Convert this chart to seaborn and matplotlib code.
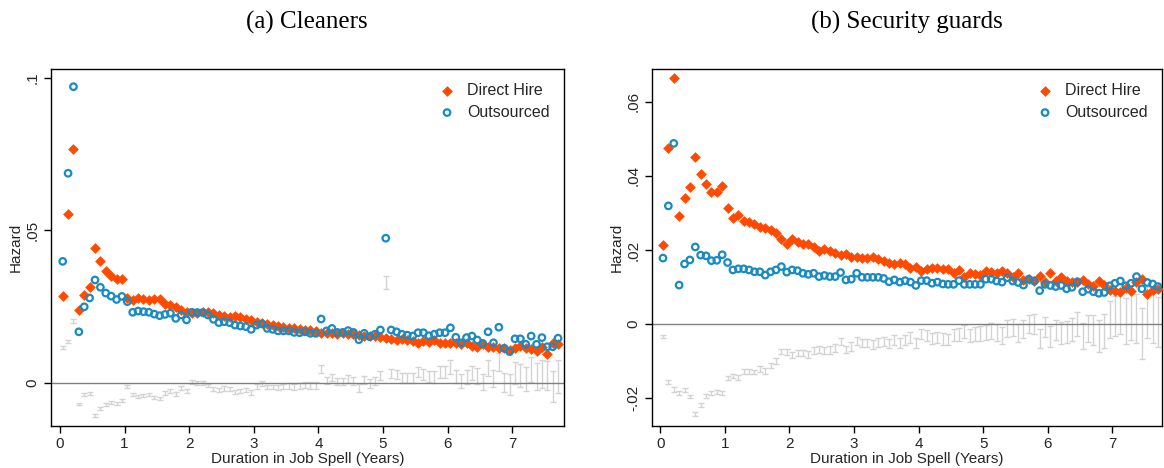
import numpy as np
import pandas as pd
import matplotlib
matplotlib.use("Agg")
import matplotlib.pyplot as plt
import seaborn as sns

# ---------------- data ----------------
months = list(range(93))  # monthly spell bins, plotted at (m + 0.5) / 12 years

clean_direct = [
    0.0283, 0.0553, 0.0768, 0.0237, 0.0287, 0.0314, 0.0443, 0.0399, 0.0367, 0.0350, 0.0340, 0.0340,
    0.0279, 0.0271, 0.0279, 0.0276, 0.0270, 0.0273, 0.0273, 0.0258, 0.0255, 0.0247, 0.0240, 0.0233,
    0.0228, 0.0230, 0.0232, 0.0231, 0.0228, 0.0222, 0.0219, 0.0217, 0.0219, 0.0214, 0.0208, 0.0206,
    0.0200, 0.0197, 0.0192, 0.0189, 0.0186, 0.0183, 0.0181, 0.0179, 0.0176, 0.0174, 0.0172, 0.0170,
    0.0164, 0.0162, 0.0162, 0.0160, 0.0162, 0.0159, 0.0159, 0.0157, 0.0153, 0.0153, 0.0153, 0.0149,
    0.0146, 0.0143, 0.0140, 0.0143,
    0.0140, 0.0137, 0.0129, 0.0137, 0.0135, 0.0140, 0.0129, 0.0129, 0.0129, 0.0129, 0.0126, 0.0129,
    0.0121, 0.0118, 0.0126, 0.0118, 0.0118, 0.0115, 0.0113, 0.0107, 0.0113, 0.0120, 0.0113, 0.0110,
    0.0105, 0.0118, 0.0094, 0.0131, 0.0127,
]
clean_outsourced = [
    0.0398, 0.0687, 0.0971, 0.0167, 0.0249, 0.0278, 0.0337, 0.0313, 0.0294, 0.0284, 0.0273, 0.0283,
    0.0266, 0.0231, 0.0235, 0.0233, 0.0231, 0.0225, 0.0220, 0.0224, 0.0228, 0.0211, 0.0222, 0.0206,
    0.0231, 0.0230, 0.0230, 0.0222, 0.0208, 0.0197, 0.0200, 0.0197, 0.0189, 0.0186, 0.0184, 0.0175,
    0.0189, 0.0193, 0.0178, 0.0175, 0.0170, 0.0170, 0.0170, 0.0165, 0.0164, 0.0167, 0.0162, 0.0162,
    0.0209, 0.0170, 0.0178, 0.0165, 0.0165, 0.0171, 0.0165, 0.0141, 0.0162, 0.0151, 0.0159, 0.0173,
    0.0474, 0.0173, 0.0167, 0.0159,
    0.0156, 0.0153, 0.0164, 0.0164, 0.0154, 0.0159, 0.0164, 0.0164, 0.0180, 0.0149, 0.0131, 0.0148,
    0.0153, 0.0140, 0.0129, 0.0167, 0.0131, 0.0182, 0.0113, 0.0102, 0.0144, 0.0144, 0.0126, 0.0153,
    0.0126, 0.0148, 0.0118, 0.0118, 0.0146,
]
clean_ci_half = [
    0.0005, 0.0005, 0.0006, 0.0004, 0.0004, 0.0004, 0.0005, 0.0005, 0.0005, 0.0005, 0.0005, 0.0005,
    0.0005, 0.0005, 0.0005, 0.0005, 0.0005, 0.0005, 0.0005, 0.0006, 0.0006, 0.0006, 0.0006, 0.0006,
    0.0006, 0.0006, 0.0006, 0.0006, 0.0006, 0.0007, 0.0007, 0.0007, 0.0007, 0.0007, 0.0008, 0.0008,
    0.0008, 0.0008, 0.0008, 0.0008, 0.0009, 0.0009, 0.0009, 0.0010, 0.0010, 0.0010, 0.0011, 0.0011,
    0.0012, 0.0011, 0.0012, 0.0012, 0.0012, 0.0013, 0.0013, 0.0013, 0.0014, 0.0014, 0.0014, 0.0015,
    0.0022, 0.0015, 0.0016, 0.0016, 0.0016, 0.0017, 0.0017, 0.0018, 0.0018, 0.0019, 0.0019, 0.0020,
    0.0022, 0.0021, 0.0022, 0.0023, 0.0024, 0.0025, 0.0026, 0.0027, 0.0028, 0.0030, 0.0032, 0.0034,
    0.0036, 0.0038, 0.0040, 0.0042, 0.0044, 0.0046, 0.0048, 0.0050, 0.0054,
]

guard_direct = [
    0.0213, 0.0476, 0.0665, 0.0292, 0.0340, 0.0369, 0.0451, 0.0406, 0.0379, 0.0357, 0.0356, 0.0374,
    0.0312, 0.0286, 0.0294, 0.0278, 0.0275, 0.0271, 0.0263, 0.0259, 0.0254, 0.0246, 0.0230, 0.0216,
    0.0230, 0.0222, 0.0216, 0.0216, 0.0209, 0.0197, 0.0202, 0.0198, 0.0193, 0.0186, 0.0188, 0.0182,
    0.0182, 0.0178, 0.0178, 0.0182, 0.0175, 0.0171, 0.0166, 0.0162, 0.0164, 0.0161, 0.0150, 0.0155,
    0.0144, 0.0148, 0.0150, 0.0150, 0.0148, 0.0149, 0.0137, 0.0146, 0.0128, 0.0139, 0.0134, 0.0132,
    0.0144, 0.0140, 0.0139, 0.0144, 0.0137,
    0.0126, 0.0137, 0.0119, 0.0121, 0.0116, 0.0130, 0.0114, 0.0137, 0.0117, 0.0128, 0.0116, 0.0113,
    0.0114, 0.0119, 0.0107, 0.0103, 0.0116, 0.0105, 0.0092, 0.0089, 0.0086, 0.0096, 0.0090, 0.0114,
    0.0121, 0.0081, 0.0092, 0.0095,
]
guard_outsourced = [
    0.0178, 0.0319, 0.0488, 0.0105, 0.0162, 0.0173, 0.0208, 0.0186, 0.0184, 0.0171, 0.0172, 0.0187,
    0.0166, 0.0146, 0.0149, 0.0149, 0.0146, 0.0141, 0.0141, 0.0132, 0.0141, 0.0146, 0.0155, 0.0140,
    0.0146, 0.0144, 0.0137, 0.0134, 0.0137, 0.0128, 0.0131, 0.0128, 0.0128, 0.0139, 0.0119, 0.0121,
    0.0137, 0.0126, 0.0126, 0.0126, 0.0126, 0.0123, 0.0114, 0.0119, 0.0113, 0.0117, 0.0113, 0.0104,
    0.0117, 0.0117, 0.0110, 0.0113, 0.0108, 0.0107, 0.0107, 0.0117, 0.0107, 0.0107, 0.0107, 0.0107,
    0.0121, 0.0121, 0.0116, 0.0113, 0.0125,
    0.0116, 0.0112, 0.0105, 0.0121, 0.0116, 0.0090, 0.0107, 0.0104, 0.0101, 0.0104, 0.0095, 0.0099,
    0.0114, 0.0087, 0.0094, 0.0087, 0.0083, 0.0085, 0.0103, 0.0110, 0.0116, 0.0103, 0.0110, 0.0128,
    0.0095, 0.0112, 0.0108, 0.0101,
]
guard_ci_half = [
    0.0004, 0.0005, 0.0006, 0.0005, 0.0005, 0.0005, 0.0006, 0.0005, 0.0005, 0.0005, 0.0005, 0.0005,
    0.0006, 0.0006, 0.0006, 0.0006, 0.0006, 0.0006, 0.0007, 0.0007, 0.0007, 0.0007, 0.0007, 0.0008,
    0.0008, 0.0008, 0.0008, 0.0009, 0.0009, 0.0009, 0.0009, 0.0010, 0.0010, 0.0010, 0.0010, 0.0011,
    0.0011, 0.0011, 0.0011, 0.0012, 0.0012, 0.0012, 0.0012, 0.0013, 0.0013, 0.0013, 0.0014, 0.0014,
    0.0014, 0.0015, 0.0015, 0.0015, 0.0016, 0.0016, 0.0017, 0.0017, 0.0018, 0.0018, 0.0019, 0.0020,
    0.0020, 0.0021, 0.0022, 0.0022, 0.0023, 0.0023, 0.0024, 0.0024, 0.0025, 0.0026, 0.0026, 0.0027,
    0.0028, 0.0028, 0.0029, 0.0030, 0.0031, 0.0033, 0.0035, 0.0037, 0.0040, 0.0043, 0.0046, 0.0050,
    0.0054, 0.0058, 0.0062, 0.0064, 0.0066, 0.0068, 0.0068, 0.0068, 0.0068,
]

panel_titles = ["(a) Cleaners", "(b) Security guards"]
series_names = ["Direct Hire", "Outsourced"]
x_label = "Duration in Job Spell (Years)"
y_label = "Hazard"
x_ticks = [0, 1, 2, 3, 4, 5, 6, 7]
clean_yticks = [0, 0.05, 0.1]
clean_yticklabels = ["0", ".05", ".1"]
guard_yticks = [-0.02, 0, 0.02, 0.04, 0.06]
guard_yticklabels = ["-.02", "0", ".02", ".04", ".06"]

# ---------------- style ----------------
sns.set_style("ticks")
plt.rcParams["font.family"] = ["Liberation Sans", "DejaVu Sans"]

ORANGE = "#FF4A00"
BLUE = "#1A8BC2"
GREY = "#D3D3D3"

fig = plt.figure(figsize=(11.64, 4.68), dpi=100)
W, H = 1164, 468


def make_ax(l, r, t, b):
    return fig.add_axes([l / W, 1 - b / H, (r - l) / W, (b - t) / H])


ax_l = make_ax(50.7, 564, 69, 425.7)
ax_r = make_ax(651.7, 1162, 69, 425.7)

panels = [
    (ax_l, clean_direct, clean_outsourced, clean_ci_half, clean_yticks, clean_yticklabels,
     (-0.0141, 0.1029), (-0.144, 7.8), panel_titles[0], 307),
    (ax_r, guard_direct, guard_outsourced, guard_ci_half, guard_yticks, guard_yticklabels,
     (-0.0275, 0.0689), (-0.133, 7.77), panel_titles[1], 907),
]

for ax, d, o, hw, yt, ytl, ylim, xlim, title, tx in panels:
    years = (np.array(months) + 0.5) / 12
    diff = np.array(o) - np.array(d)
    ax.errorbar(years, diff, yerr=np.array(hw), fmt="none", ecolor=GREY,
                elinewidth=1.0, capsize=2.2, capthick=1.0, zorder=1)
    ax.axhline(0, color="#808080", lw=1.0, zorder=1.5)
    df = pd.DataFrame({
        "years": np.concatenate([years, years]),
        "hazard": np.concatenate([d, o]),
        "type": [series_names[0]] * len(d) + [series_names[1]] * len(o),
    })
    sns.scatterplot(data=df[df["type"] == series_names[0]], x="years", y="hazard",
                    marker="D", s=30, color=ORANGE, edgecolor=ORANGE, linewidth=0,
                    ax=ax, zorder=3, label=series_names[0])
    sns.scatterplot(data=df[df["type"] == series_names[1]], x="years", y="hazard",
                    marker="o", s=22, facecolor="none", edgecolor=BLUE, linewidth=1.6,
                    ax=ax, zorder=4, label=series_names[1])
    ax.set_xlim(*xlim)
    ax.set_ylim(*ylim)
    ax.set_xticks(x_ticks)
    ax.set_yticks(yt)
    ax.set_yticklabels(ytl, rotation=90, va="center")
    ax.tick_params(axis="both", labelsize=11, length=5, width=1, color="black", pad=3)
    ax.set_xlabel(x_label, fontsize=11, labelpad=1)
    ax.set_ylabel(y_label, fontsize=11, labelpad=2)
    for sp in ax.spines.values():
        sp.set_visible(True)
        sp.set_color("black")
        sp.set_linewidth(1.0)
    ax.legend(loc="upper right", frameon=False, fontsize=11.5,
              handletextpad=0.25, borderaxespad=0.5, labelspacing=0.4,
              markerscale=1.0)
    fig.text(tx / W, 1 - 22 / H, title, ha="center", va="center", fontsize=18,
             color="black", family=["Liberation Serif", "DejaVu Serif"])

fig.savefig("out.png", dpi=100, facecolor="white")
